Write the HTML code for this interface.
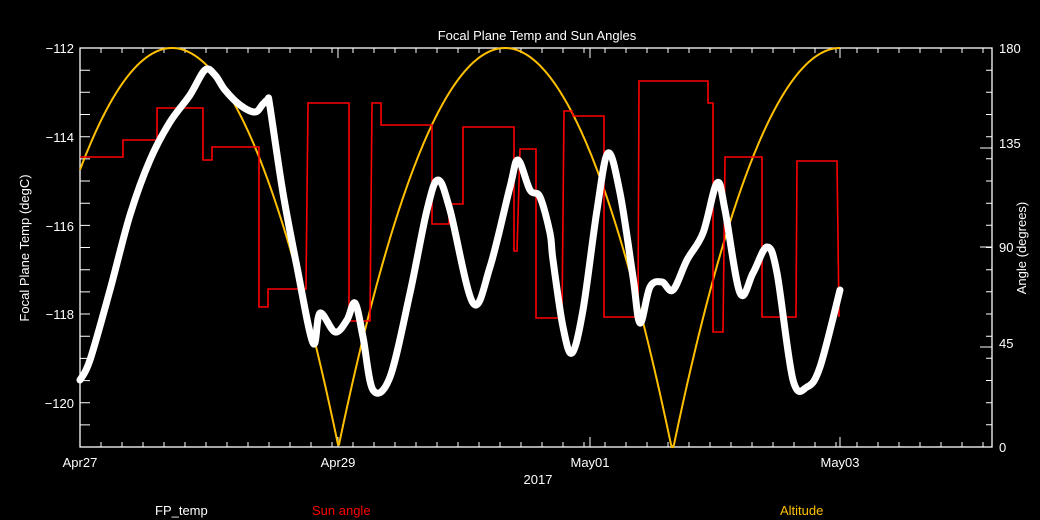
<!DOCTYPE html>
<html><head><meta charset="utf-8"><style>
html,body{margin:0;padding:0;background:#000;}
svg{display:block;}
text{font-family:"Liberation Sans",sans-serif;font-size:13px;}
</style></head><body>
<svg id="s" width="1040" height="520" viewBox="0 0 1040 520" xmlns="http://www.w3.org/2000/svg">
<rect width="1040" height="520" fill="#000"/>
<g id="ticks" stroke="#fff" stroke-width="1"></g>
<rect x="80" y="48" width="912" height="399" fill="none" stroke="#fff" stroke-width="1.3"/>
<path id="alt" fill="none" stroke="#ffc000" stroke-width="2"/>
<path id="red" fill="none" stroke="#ff0000" stroke-width="1.6"/>
<path id="fp" fill="none" stroke="#fff" stroke-width="7" stroke-linejoin="round" stroke-linecap="round"/>
<text x="537" y="40" fill="#fff" text-anchor="middle" font-size="14">Focal Plane Temp and Sun Angles</text>
<g fill="#fff" text-anchor="end" font-size="14">
<text x="74" y="53">−112</text><text x="74" y="142">−114</text><text x="74" y="231">−116</text><text x="74" y="319">−118</text><text x="74" y="408">−120</text>
</g>
<g fill="#fff" font-size="14">
<text x="999" y="53">180</text><text x="999" y="148">135</text><text x="999" y="252">90</text><text x="999" y="348">45</text><text x="999" y="452">0</text>
</g>
<g fill="#fff" text-anchor="middle" font-size="14">
<text x="80" y="467">Apr27</text><text x="338" y="467">Apr29</text><text x="590" y="467">May01</text><text x="840" y="467">May03</text>
<text x="538" y="484">2017</text>
</g>
<text transform="translate(29,248) rotate(-90)" fill="#fff" text-anchor="middle">Focal Plane Temp (degC)</text>
<text transform="translate(1026,248) rotate(-90)" fill="#fff" text-anchor="middle">Angle (degrees)</text>
<text x="155" y="515" fill="#fff">FP_temp</text>
<text x="312" y="515" fill="#ff0000">Sun angle</text>
<text x="780" y="515" fill="#ffc000">Altitude</text>
</svg>
<script>
var t='';
for(var x=80;x<=992;x+=21){t+='M'+x+' 447v-5M'+x+' 48v5';}
[338,590,840].forEach(function(x){t+='M'+x+' 447v-10M'+x+' 48v10';});
for(var y=48;y<=447;y+=22.17){t+='M80 '+y.toFixed(1)+'h10';}
for(var k=0;k<=18;k++){var yy=447-k*399/18;t+='M992 '+yy.toFixed(1)+'h-6';}
[447,347,247,148,48].forEach(function(y){t+='M992 '+y+'h-12';});
var g=document.getElementById('ticks');var p=document.createElementNS('http://www.w3.org/2000/svg','path');p.setAttribute('d',t);g.appendChild(p);
var pk=[172,505,840],s='';
for(var x=80;x<=840;x++){var n=pk.reduce(function(a,b){return Math.abs(x-b)<Math.abs(x-a)?b:a;});var d=Math.min(1,Math.abs((x-n)/166.5));var v=180*(1-d*d);var y=447-v*399/180;s+=(x==80?'M':'L')+x+' '+y.toFixed(1);}
document.getElementById('alt').setAttribute('d',s);
var r=[[80,157],[123,157],[123,140],[157,140],[157,108],[203,108],[203,160],[212,160],[212,147],[259,147],[259,307],[268,307],[268,289],[306,289],[308,103],[349,103],[349,321],[370,321],[372,103],[381,103],[381,125],[432,125],[432,224],[449,224],[449,204],[463,204],[463,127],[514,127],[514,251],[517,251],[520,149],[536,149],[536,318],[562,318],[564,111],[572,111],[573,116],[604,116],[604,317],[638,317],[639,81],[708,81],[708,103],[713,103],[713,332],[723,332],[725,157],[762,157],[762,317],[796,317],[797,161],[837,161],[839,316],[840,316]];
document.getElementById('red').setAttribute('d','M'+r.map(function(q){return q.join(' ')}).join('L'));
var w=[[80,380],[90,360],[110,290],[130,215],[150,160],[170,122],[190,95],[205,70],[215,75],[225,90],[240,105],[255,112],[263,104],[268,100],[270,107],[283,193],[297,267],[313,343],[320,313],[335,332],[347,320],[355,303],[363,337],[373,390],[390,377],[410,293],[427,210],[438,180],[450,210],[473,303],[490,267],[510,187],[518,160],[530,190],[540,197],[550,233],[553,260],[563,327],[572,353],[583,310],[597,210],[608,153],[620,193],[633,277],[640,323],[650,287],[662,282],[673,290],[687,260],[703,233],[717,183],[725,210],[740,293],[753,273],[767,247],[777,273],[793,380],[807,387],[820,367],[840,290]];
var d='M'+w[0].join(' ');
for(var i=0;i<w.length-1;i++){var p0=w[Math.max(0,i-1)],p1=w[i],p2=w[i+1],p3=w[Math.min(w.length-1,i+2)];
var c1x=p1[0]+(p2[0]-p0[0])/6,c1y=p1[1]+(p2[1]-p0[1])/6,c2x=p2[0]-(p3[0]-p1[0])/6,c2y=p2[1]-(p3[1]-p1[1])/6;
d+='C'+c1x.toFixed(1)+' '+c1y.toFixed(1)+' '+c2x.toFixed(1)+' '+c2y.toFixed(1)+' '+p2[0]+' '+p2[1];}
document.getElementById('fp').setAttribute('d',d);
</script>
</body></html>
